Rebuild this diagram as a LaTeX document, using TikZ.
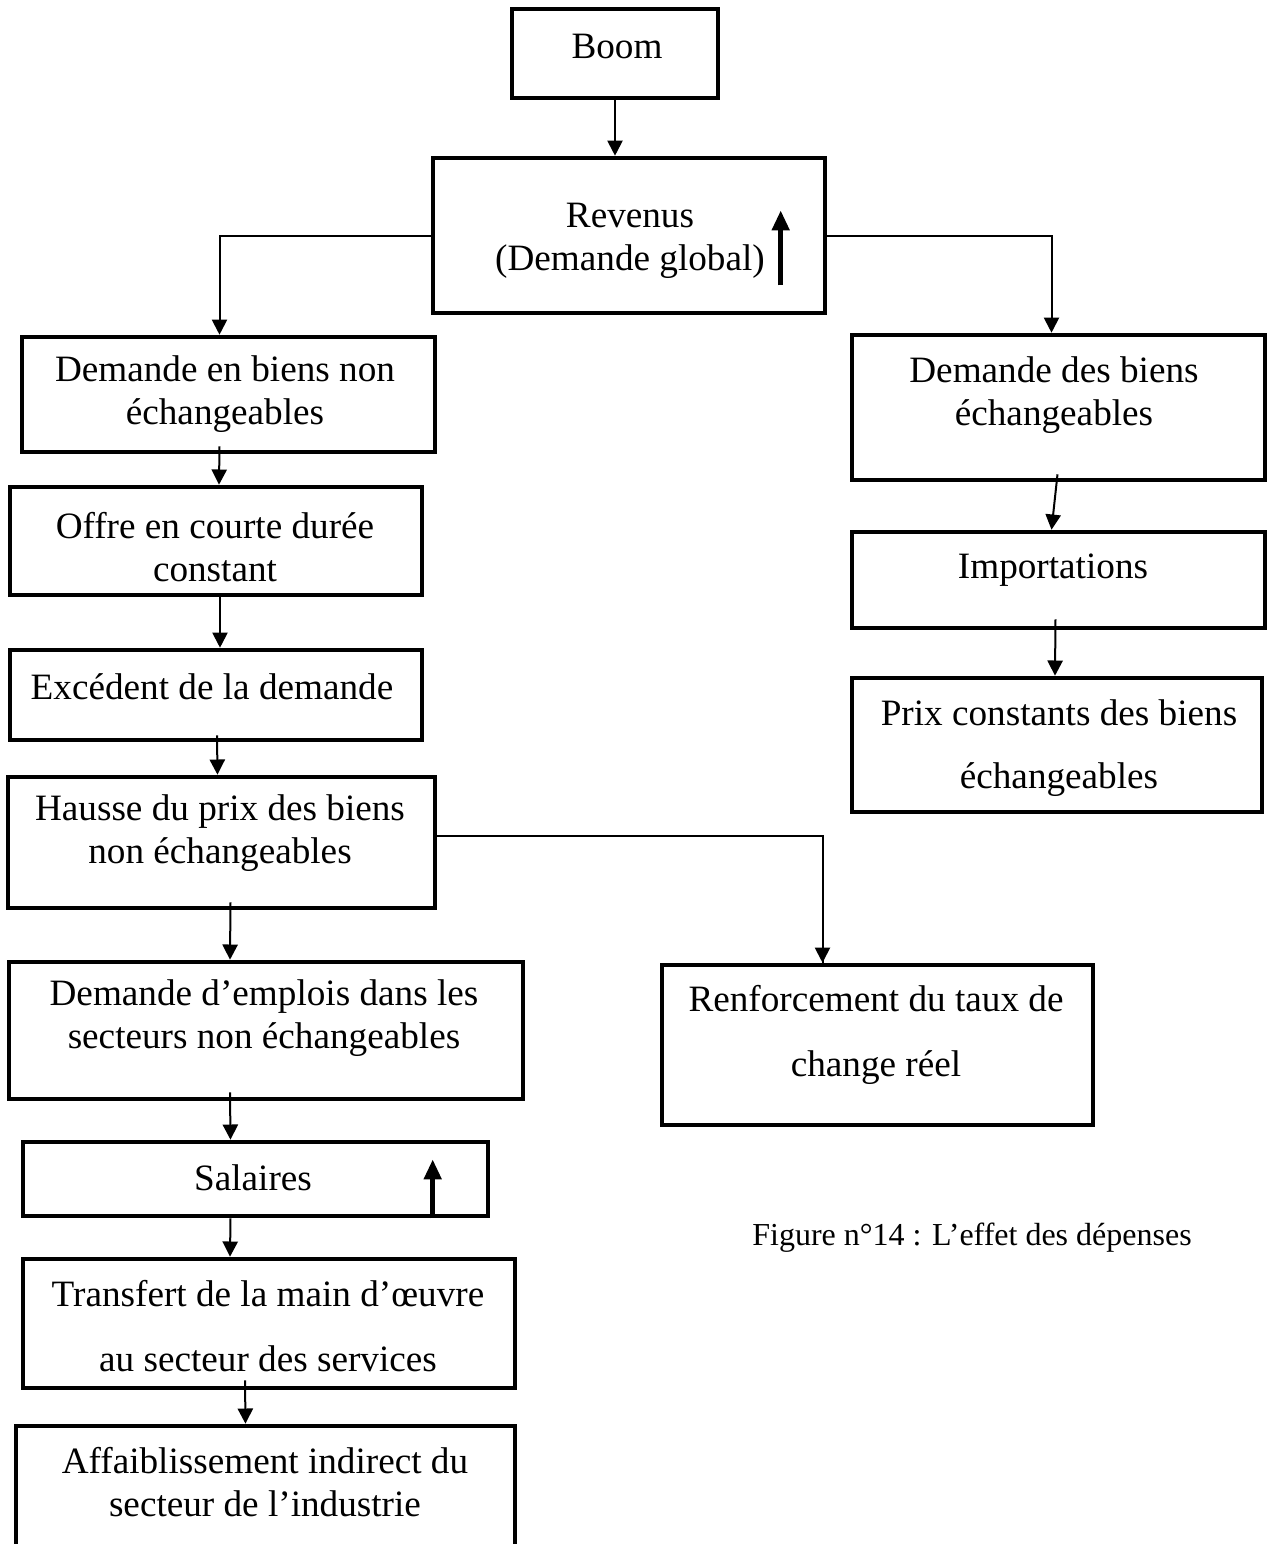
\documentclass[tikz,border=0pt]{standalone}
\usepackage{fontspec}
\setmainfont{Liberation Serif}
\usetikzlibrary{arrows.meta,fit,calc}
\tikzset{
  box/.style={draw, line width=1.15pt, inner sep=0pt},
  txt/.style={align=center, inner sep=0pt, font=\fontsize{9.3pt}{10.7pt}\selectfont},
  arr/.style={line width=0.5pt, -{Triangle[width=3.8pt,length=3.8pt]}},
  link/.style={line width=0.5pt},
  uparr/.style={line width=1.3pt, -{Triangle[width=4.2pt,length=5pt]}}
}
\begin{document}
\begin{tikzpicture}[x=0.25pt,y=-0.25pt]
\useasboundingbox (0,0) rectangle (1266,1544);
% boxes
\node[box, fit={(512,9)(718,98)}] (boom) {};
\node[box, fit={(433,158)(825,313)}] (rev) {};
\node[box, fit={(22,337)(435,452)}] (nd) {};
\node[box, fit={(10,487)(422,595)}] (offre) {};
\node[box, fit={(10,650)(422,740)}] (exc) {};
\node[box, fit={(8,777)(435,908)}] (hausse) {};
\node[box, fit={(9,962)(523,1099)}] (emp) {};
\node[box, fit={(23,1142)(488,1216)}] (sal) {};
\node[box, fit={(23,1259)(515,1388)}] (trans) {};
\node[box, fit={(16,1426)(515,1570)}] (aff) {};
\node[box, fit={(852,335)(1265,480)}] (db) {};
\node[box, fit={(852,532)(1265,628)}] (imp) {};
\node[box, fit={(852,678)(1262,812)}] (prix) {};
\node[box, fit={(662,965)(1093,1125)}] (renf) {};
% texts
\node[txt] (tboom) at (617,46) {Boom};
\node[txt] (trev) at (630,241) {Revenus\\(Demande global)};
\node[txt] (tnd) at (225,394) {Demande en biens non\\échangeables};
\node[txt] (toffre) at (215,547) {Offre en courte durée\\constant};
\node[txt] (texc) at (212,687) {Excédent de la demande};
\node[txt] (thausse) at (220,833) {Hausse du prix des biens\\non échangeables};
\node[txt] (temp) at (264,1018) {Demande d’emplois dans les\\secteurs non échangeables};
\node[txt] (tsal) at (253,1178) {Salaires};
\node[txt] (ttrans) at (268,1326) {Transfert de la main d’œuvre\\[5.5pt]au secteur des services};
\node[txt] (taff) at (265,1482) {Affaiblissement indirect du\\secteur de l’industrie};
\node[txt] (tdb) at (1054,395) {Demande des biens\\échangeables};
\node[txt] (timp) at (1053,570) {Importations};
\node[txt] (tprix) at (1059,748) {Prix constants des biens\\[5pt]échangeables};
\node[txt] (trenf) at (876,1035) {Renforcement du taux de\\[5.5pt]change réel};
\node[inner sep=0pt, font=\fontsize{8pt}{9.6pt}\selectfont] (cap) at (972,1238) {Figure n°14 : L’effet des dépenses};
% connectors
\draw[arr] (boom.south) -- (boom.south |- rev.north);
\draw[arr] (rev.west) -| ($(nd.north)+(-9,0)$);
\draw[arr] (rev.east) -| ($(db.north)+(-7,0)$);
\draw[arr] ($(nd.south)+(-9,-8)$) -- ($(offre.north)+(3,0)$);
\draw[arr] ($(offre.south)+(4,-3)$) -- ($(exc.north)+(4,0)$);
\draw[arr] ($(exc.south)+(1,-7)$) -- ($(hausse.north)+(-4,0)$);
\draw[arr] ($(hausse.south)+(9,-8)$) -- ($(emp.north)+(-36,0)$);
\draw[link] ($(hausse.east)+(0,-7)$) -| ($(renf.north)+(-55,0)$);
\draw[arr] ($(renf.north)+(-55,-1)$) -- ($(renf.north)+(-55,0)$);
\draw[arr] ($(emp.south)+(-36,-9)$) -- ($(sal.north)+(-25,0)$);
\draw[arr] ($(sal.south)+(-25,0)$) -- ($(trans.north)+(-39,0)$);
\draw[arr] ($(trans.south)+(-24,-10)$) -- ($(aff.north)+(-20,0)$);
\draw[arr] ($(db.south)+(-1,-8)$) -- ($(imp.north)+(-7,0)$);
\draw[arr] ($(imp.south)+(-3,-11)$) -- ($(prix.north)+(-2,0)$);
% rising arrows inside boxes
\draw[uparr] ($(rev.south west)+(350,-30)$) -- ++(0,-75);
\draw[uparr] ($(sal.south west)+(412,0)$) -- ++(0,-59);
\end{tikzpicture}
\end{document}
